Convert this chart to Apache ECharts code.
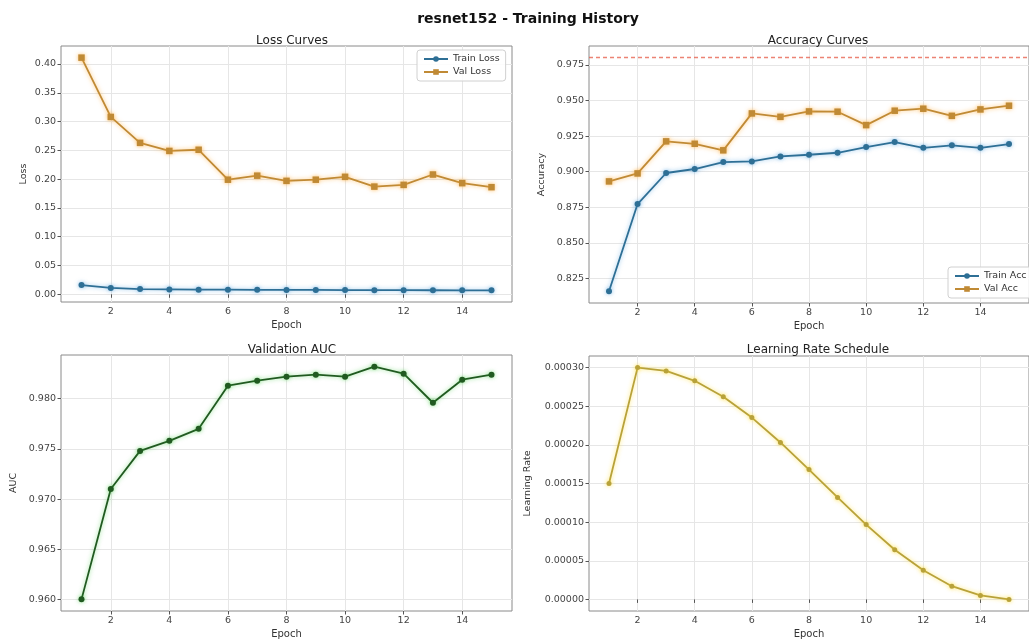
<!DOCTYPE html>
<html><head><meta charset="utf-8">
<script src="https://cdn.jsdelivr.net/npm/echarts@6/dist/echarts.min.js"></script>
<style>html,body{margin:0;padding:0;background:#fff}#c{width:1029px;height:640px}</style>
</head><body><div id="c"></div>
<script>
const epochs = [1,2,3,4,5,6,7,8,9,10,11,12,13,14,15];
const trainLoss = [0.016,0.011,0.009,0.0085,0.008,0.008,0.0078,0.0076,0.0075,0.0073,0.0072,0.0071,0.0070,0.0069,0.0068];
const valLoss = [0.411,0.308,0.263,0.249,0.251,0.199,0.206,0.197,0.199,0.204,0.187,0.190,0.208,0.193,0.186];
const trainAcc = [0.8161,0.8773,0.8991,0.9019,0.9068,0.9072,0.9107,0.9119,0.9133,0.9173,0.9208,0.9168,0.9185,0.9168,0.9194];
const valAcc = [0.8932,0.8988,0.9213,0.9196,0.9150,0.9409,0.9385,0.9423,0.9421,0.9327,0.9428,0.9442,0.9392,0.9437,0.9463];
const valAuc = [0.9600,0.9710,0.9748,0.9758,0.9770,0.9813,0.9818,0.9822,0.9824,0.9822,0.9832,0.9825,0.9796,0.9819,0.9824];
const learningRate = [0.000150,0.000300,0.0002957,0.0002829,0.0002623,0.0002353,0.0002031,0.000168,0.000132,0.0000968,0.0000643,0.0000377,0.0000171,0.0000051,0.0];
const accTarget = 0.98;

const epochTicks = [2,4,6,8,10,12,14];
const lossTicks = [0.00,0.05,0.10,0.15,0.20,0.25,0.30,0.35,0.40];
const accTicks = [0.825,0.850,0.875,0.900,0.925,0.950,0.975];
const aucTicks = [0.960,0.965,0.970,0.975,0.980];
const lrTicks = [0.00000,0.00005,0.00010,0.00015,0.00020,0.00025,0.00030];

const FONT = 'DejaVu Sans';
function pad(arrs){
  let lo = Infinity, hi = -Infinity;
  arrs.forEach(a => a.forEach(v => { lo = Math.min(lo, v); hi = Math.max(hi, v); }));
  const m = (hi - lo) * 0.05;
  return [lo - m, hi + m];
}
const xr = pad([epochs]);
const lossR = pad([trainLoss, valLoss]);
const accR = pad([trainAcc, valAcc, [accTarget]]);
const aucR = pad([valAuc]);
const lrR = pad([learningRate]);

const pairs = ys => epochs.map((e, i) => [e, ys[i]]);

const grids = [
  {left: 61, top: 46, width: 451, height: 256},
  {left: 589, top: 46, width: 450, height: 257},
  {left: 61, top: 355, width: 451, height: 257},
  {left: 589, top: 356, width: 450, height: 255}
].map(g => Object.assign(g, {show: true, borderColor: '#8a8a8a', borderWidth: 1, backgroundColor: '#fff'}));

const gridLine = {show: true, lineStyle: {color: '#e6e6e6', width: 1}};
function xAxis(gi){
  return {
    type: 'value', gridIndex: gi, min: xr[0], max: xr[1],
    name: 'Epoch', nameLocation: 'middle', nameGap: 18,
    nameTextStyle: {fontFamily: FONT, fontSize: 10, color: '#333'},
    axisLine: {show: false},
    axisTick: {show: true, customValues: epochTicks, length: 3.5, lineStyle: {color: '#555'}},
    axisLabel: {customValues: epochTicks, fontFamily: FONT, fontSize: 9.5, color: '#444', margin: 5, formatter: v => String(v)},
    splitLine: gridLine
  };
}
function yAxis(gi, name, r, ticks, dec, gap){
  return {
    type: 'value', gridIndex: gi, min: r[0], max: r[1],
    name: name, nameLocation: 'middle', nameGap: gap, nameRotate: 90,
    nameTextStyle: {fontFamily: FONT, fontSize: 9.5, color: '#333'},
    axisLine: {show: false},
    axisTick: {show: true, customValues: ticks, length: 3.5, lineStyle: {color: '#555'}},
    axisLabel: {customValues: ticks, fontFamily: FONT, fontSize: 9.5, color: '#444', margin: 5, formatter: v => v.toFixed(dec)},
    splitLine: gridLine
  };
}
function line(name, gi, ys, color, glow, symbol, size){
  return {
    name: name, type: 'line', xAxisIndex: gi, yAxisIndex: gi, data: pairs(ys),
    symbol: symbol, symbolSize: size, showSymbol: true,
    lineStyle: {color: color, width: 1.8, shadowColor: glow, shadowBlur: 4},
    itemStyle: {color: color, shadowColor: glow, shadowBlur: 4},
    emphasis: {disabled: true}, animation: false
  };
}
const BLUE = '#2e6f95', BLUEG = 'rgba(60,150,220,0.55)';
const ORANGE = '#c08a35', ORANGEG = 'rgba(255,170,50,0.7)';
const GREEN = '#215a21', GREENG = 'rgba(40,200,40,0.5)';
const GOLD = '#b8a23a', GOLDG = 'rgba(255,220,40,0.7)';

const titleStyle = {fontFamily: FONT, fontSize: 12, fontWeight: 'normal', color: '#222'};
const legendBase = {
  orient: 'vertical', itemWidth: 24, itemHeight: 7, itemGap: 3,
  backgroundColor: 'rgba(255,255,255,0.85)', borderColor: '#d0d0d0', borderWidth: 1, borderRadius: 3,
  padding: [4, 6, 4, 6],
  textStyle: {fontFamily: FONT, fontSize: 9.5, color: '#333'}
};

const valAccSeries = line('Val Acc', 1, valAcc, ORANGE, ORANGEG, 'rect', 6.5);
valAccSeries.markLine = {
  silent: true, symbol: 'none', animation: false,
  label: {show: false},
  lineStyle: {color: 'rgba(230,90,70,0.75)', type: [4, 3], width: 1.3},
  data: [{yAxis: accTarget}]
};

const option = {
  backgroundColor: '#fff',
  animation: false,
  title: [
    {text: 'resnet152 - Training History', left: 523, top: 7, textAlign: 'center', textStyle: {fontFamily: FONT, fontSize: 14, fontWeight: 'bold', color: '#111'}},
    {text: 'Loss Curves', left: 287, top: 30, textAlign: 'center', textStyle: titleStyle},
    {text: 'Accuracy Curves', left: 813, top: 30, textAlign: 'center', textStyle: titleStyle},
    {text: 'Validation AUC', left: 287, top: 339, textAlign: 'center', textStyle: titleStyle},
    {text: 'Learning Rate Schedule', left: 813, top: 339, textAlign: 'center', textStyle: titleStyle}
  ],
  legend: [
    Object.assign({}, legendBase, {data: ['Train Loss', 'Val Loss'], left: 417, top: 50}),
    Object.assign({}, legendBase, {data: ['Train Acc', 'Val Acc'], left: 948, top: 267})
  ],
  grid: grids,
  xAxis: [xAxis(0), xAxis(1), xAxis(2), xAxis(3)],
  yAxis: [
    yAxis(0, 'Loss', lossR, lossTicks, 2, 32),
    yAxis(1, 'Accuracy', accR, accTicks, 3, 42),
    yAxis(2, 'AUC', aucR, aucTicks, 3, 42),
    yAxis(3, 'Learning Rate', lrR, lrTicks, 5, 56)
  ],
  series: [
    line('Train Loss', 0, trainLoss, BLUE, BLUEG, 'circle', 6),
    line('Val Loss', 0, valLoss, ORANGE, ORANGEG, 'rect', 6.5),
    line('Train Acc', 1, trainAcc, BLUE, BLUEG, 'circle', 6),
    valAccSeries,
    line('Val AUC', 2, valAuc, GREEN, GREENG, 'circle', 6),
    line('Learning Rate', 3, learningRate, GOLD, GOLDG, 'circle', 5)
  ]
};
const chart = echarts.init(document.getElementById('c'), null, {renderer: 'canvas'});
chart.setOption(option);
</script></body></html>
